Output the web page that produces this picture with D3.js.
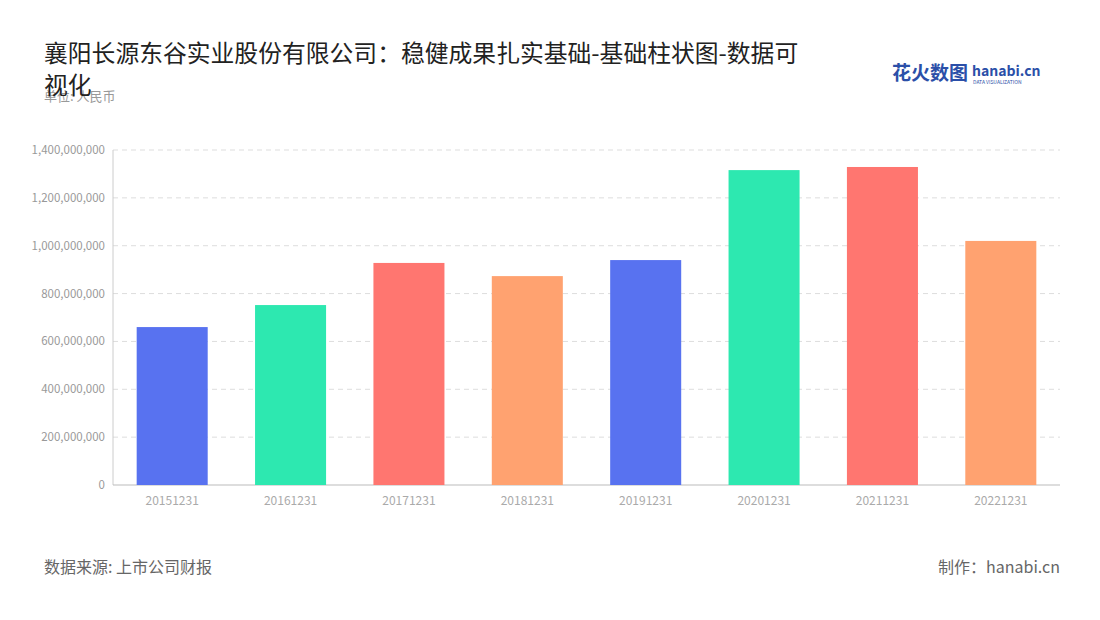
<!DOCTYPE html>
<html><head><meta charset="utf-8">
<script src="https://cdn.jsdelivr.net/npm/d3@7"></script>
<style>body{margin:0;background:#fff;font-family:"Noto Sans CJK SC","Noto Sans",sans-serif}</style>
</head><body><svg id="c" width="1100" height="620"></svg>
<script>
const categories=["20151231","20161231","20171231","20181231","20191231","20201231","20211231","20221231"];
const values=[660000000,752000000,928000000,873000000,940000000,1316000000,1329000000,1020000000];
const colors=["#5872f0","#2de8b0","#ff7670","#ffa270","#5872f0","#2de8b0","#ff7670","#ffa270"];
const yTicks=[0,200000000,400000000,600000000,800000000,1000000000,1200000000,1400000000];
const svg=d3.select("#c");
const m={l:113,r:1060,t:150,b:485};
const x=d3.scaleBand().domain(categories).range([m.l,m.r]).paddingInner(0.4).paddingOuter(0.2);
const y=d3.scaleLinear().domain([0,1400000000]).range([m.b,m.t]);
const fmt=d3.format(",");
svg.append("g").selectAll("line").data(yTicks.slice(1)).join("line")
 .attr("x1",m.l).attr("x2",m.r).attr("y1",d=>y(d)).attr("y2",d=>y(d))
 .attr("stroke","#ddd").attr("stroke-dasharray","5,4");
svg.append("g").selectAll("text").data(yTicks).join("text")
 .attr("x",m.l-8).attr("y",d=>y(d)+4).attr("text-anchor","end")
 .attr("font-size",11.5).attr("fill","#999").text(d=>fmt(d));
svg.append("line").attr("x1",m.l).attr("x2",m.l).attr("y1",m.t).attr("y2",m.b).attr("stroke","#ccc");
svg.append("line").attr("x1",m.l).attr("x2",m.r).attr("y1",m.b).attr("y2",m.b).attr("stroke","#bbb");
svg.append("g").selectAll("rect").data(values).join("rect")
 .attr("x",(d,i)=>x(categories[i])).attr("width",x.bandwidth())
 .attr("y",d=>y(d)).attr("height",d=>m.b-y(d)).attr("fill",(d,i)=>colors[i]);
svg.append("g").selectAll("text").data(categories).join("text")
 .attr("x",d=>x(d)+x.bandwidth()/2).attr("y",m.b+20).attr("text-anchor","middle")
 .attr("font-size",12).attr("fill","#aaa").text(d=>d);
svg.append("text").attr("x",44).attr("y",101).attr("font-size",13).attr("fill","#999").text("单位: 人民币");
const t=svg.append("text").attr("font-size",23.8).attr("fill","#222");
t.append("tspan").attr("x",44).attr("y",62).text("襄阳长源东谷实业股份有限公司：稳健成果扎实基础-基础柱状图-数据可");
t.append("tspan").attr("x",44).attr("y",94).text("视化");
svg.append("text").attr("x",44).attr("y",573).attr("font-size",16).attr("fill","#666").text("数据来源: 上市公司财报");
svg.append("text").attr("x",1060).attr("y",573).attr("text-anchor","end").attr("font-size",16).attr("fill","#666").text("制作：hanabi.cn");
svg.append("text").attr("x",892).attr("y",80).attr("font-size",19).attr("font-weight","bold").attr("fill","#2b4fa8").text("花火数图");
svg.append("text").attr("x",972).attr("y",76).attr("font-size",14).attr("font-weight","bold").attr("fill","#2b4fa8").text("hanabi.cn");
svg.append("text").attr("x",973).attr("y",84).attr("font-size",5).attr("fill","#2b4fa8").text("DATA VISUALIZATION");
</script></body></html>
